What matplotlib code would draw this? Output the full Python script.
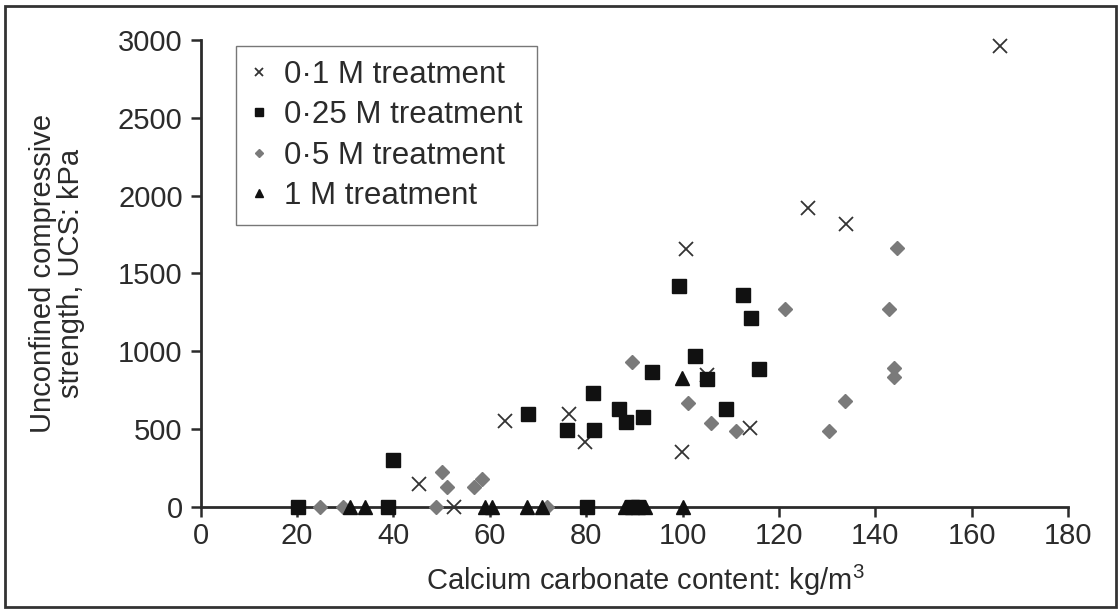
import matplotlib
matplotlib.use("Agg")
import matplotlib.pyplot as plt
from matplotlib.patches import Rectangle

plt.rcParams['font.family'] = ['Liberation Sans', 'DejaVu Sans']
plt.rcParams['mathtext.fontset'] = 'custom'
plt.rcParams['mathtext.rm'] = 'Liberation Sans'

# calcium carbonate content (kg/m3) and UCS (kPa) for each treatment
x_01 = [45.4, 52.6, 63.2, 76.4, 79.8, 99.8, 100.7, 105.0, 114.0, 126.1, 133.9, 165.8]
ucs_01 = [145, 0, 550, 595, 415, 355, 1655, 845, 505, 1920, 1817, 2963]

x_025 = [20.1, 38.9, 40.0, 68.0, 76.0, 81.5, 81.7, 80.1, 86.9, 88.2, 91.7, 89.5,
         90.8, 93.6, 99.3, 102.5, 105.0, 109.0, 112.6, 114.2, 115.9]
ucs_025 = [0, 0, 300, 595, 495, 730, 495, 0, 630, 545, 576, 0,
           0, 865, 1420, 970, 820, 630, 1362, 1213, 885]

x_05 = [24.8, 29.6, 48.8, 50.1, 51.1, 56.8, 58.3, 71.9, 89.5, 101.2, 105.9,
        111.1, 121.3, 130.3, 133.7, 142.9, 144.5, 143.9, 143.9]
ucs_05 = [0, 0, 0, 227, 127, 130, 180, 0, 930, 670, 540,
          490, 1272, 490, 683, 1272, 1663, 891, 837]

x_1 = [31.0, 34.1, 59.0, 60.5, 67.7, 70.9, 88.1, 92.2, 100.0, 99.8]
ucs_1 = [0, 0, 0, 0, 0, 0, 0, 0, 0, 827]

labels = ['0·1 M treatment', '0·25 M treatment', '0·5 M treatment', '1 M treatment']

ink = '#2b2b2b'
fs = 21

fig = plt.figure(figsize=(11.19, 6.10), dpi=100)
ax = fig.add_axes([0.1794, 0.1689, 0.7750, 0.7656])

ax.plot(x_01, ucs_01, ls='none', marker='x', ms=9.5, mew=1.3, color='#333333',
        clip_on=False, zorder=3, label=labels[0])
ax.plot(x_025, ucs_025, ls='none', marker='s', ms=9.5, color='#111111',
        clip_on=False, zorder=3, label=labels[1])
ax.plot(x_05, ucs_05, ls='none', marker='D', ms=7, color='#7a7a7a',
        clip_on=False, zorder=3, label=labels[2])
ax.plot(x_1, ucs_1, ls='none', marker='^', ms=9.5, color='#111111',
        clip_on=False, zorder=3, label=labels[3])

ax.set_xlim(0, 180)
ax.set_ylim(0, 3000)
ax.set_xticks(range(0, 181, 20))
ax.set_yticks(range(0, 3001, 500))

for side in ('top', 'right'):
    ax.spines[side].set_visible(False)
for side in ('left', 'bottom'):
    ax.spines[side].set_linewidth(2)
    ax.spines[side].set_color(ink)

ax.tick_params(axis='both', direction='out', length=7, width=1.8, color=ink,
               labelsize=fs, labelcolor=ink)
ax.tick_params(axis='y', pad=6)
ax.tick_params(axis='x', pad=4)

ax.set_xlabel(r'Calcium carbonate content: kg/m$^\mathregular{3}$', fontsize=fs, color=ink)
ax.xaxis.set_label_coords(0.512, -0.12)
ax.set_ylabel('Unconfined compressive\nstrength, UCS: kPa', fontsize=fs, color=ink,
              linespacing=1.0)
ax.yaxis.set_label_coords(-0.134, 0.5)

leg = ax.legend(loc='upper left', bbox_to_anchor=(236 / 1119, 1 - 46 / 610),
                bbox_transform=fig.transFigure, borderaxespad=0,
                fontsize=22.5, frameon=True, fancybox=False, markerscale=0.6,
                handlelength=0.6, handletextpad=0.5, borderpad=0.45,
                labelspacing=0.33)
leg.get_frame().set_edgecolor('#555555')
leg.get_frame().set_linewidth(1.0)
for t in leg.get_texts():
    t.set_color(ink)

# outer frame around the whole figure
fig.patches.append(Rectangle((5 / 1119, 3 / 610), 1111 / 1119, 601 / 610,
                             transform=fig.transFigure, fill=False,
                             edgecolor='#333333', linewidth=2))

fig.savefig('out.png', dpi=100)
